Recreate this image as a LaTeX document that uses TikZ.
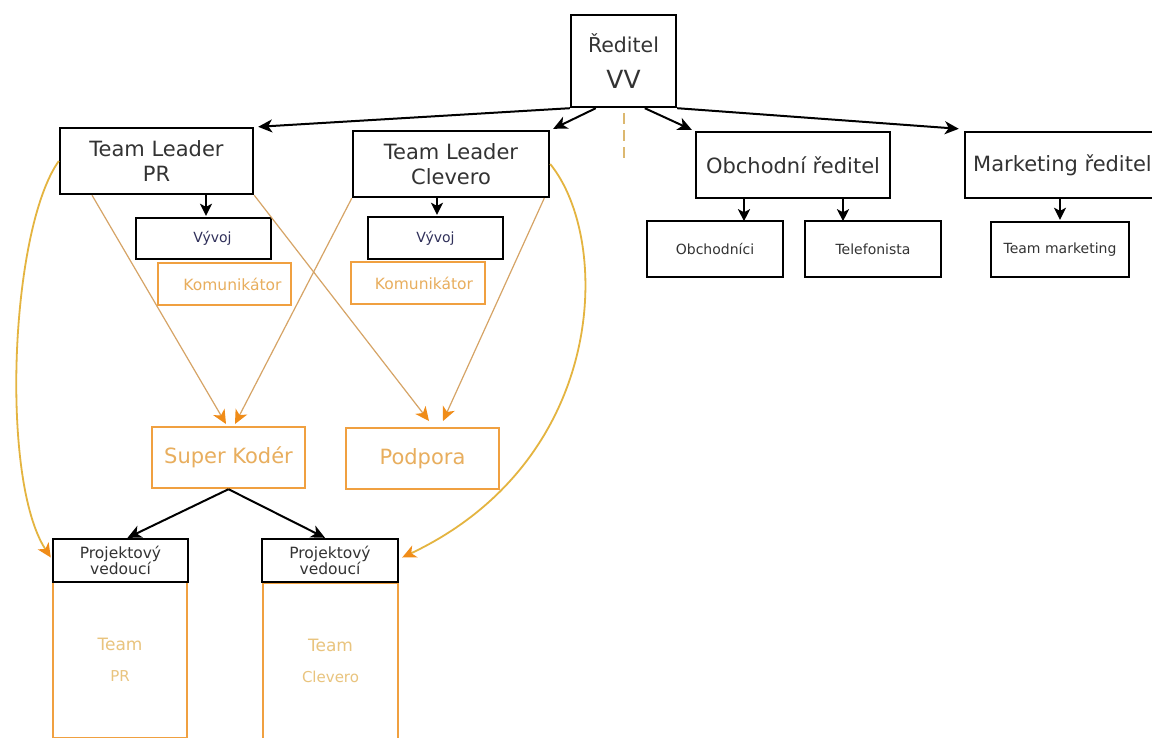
\documentclass[tikz,border=0pt]{standalone}
\usepackage{fontspec}
\setmainfont{DejaVu Sans}
\usetikzlibrary{arrows.meta,calc}
\definecolor{txt}{HTML}{333333}
\definecolor{navy}{HTML}{30305A}
\definecolor{orbox}{HTML}{F0A040}
\definecolor{ortxt}{HTML}{E8AE5E}
\definecolor{orlight}{HTML}{E9C47E}
\definecolor{tanline}{HTML}{D6A466}
\definecolor{gold}{HTML}{E4B440}
\definecolor{orhead}{HTML}{F08C18}
\definecolor{dashc}{HTML}{DCB870}
\begin{document}
\begin{tikzpicture}[x=1pt,y=-1pt,
 bbox/.style={draw=black,line width=2.4pt,inner sep=0pt,text=txt,align=center},
 obox/.style={draw=orbox,line width=2.4pt,inner sep=0pt,text=ortxt,align=center},
 big/.style={font=\fontsize{21}{25}\selectfont},
 small/.style={font=\fontsize{14}{16}\selectfont},
 arr/.style={line width=2pt,-{Stealth[length=14pt,width=13pt,inset=4pt]}},
 sarr/.style={line width=2pt,-{Stealth[length=12pt,width=12pt,inset=3pt]}},
 oline/.style={draw=tanline,line width=1.2pt,-{Stealth[length=14pt,width=13pt,inset=4pt,color=orhead]}},
 ocurve/.style={draw=gold,line width=1.8pt,-{Stealth[length=14pt,width=13pt,inset=4pt,color=orhead]}},
]
\useasboundingbox (0,0) rectangle (1152,737);
\clip (0,0) rectangle (1152,737);
\fill[white] (0,0) rectangle (1152,737);

% top
\node[bbox,minimum width=105pt,minimum height=92pt] (dir) at (623.5,61)
  {\fontsize{20.5}{24}\selectfont Ředitel\\[17pt]\fontsize{25}{28}\selectfont VV};

% second level
\node[bbox,big,minimum width=193pt,minimum height=66pt] (tlpr) at (156.5,161) {Team Leader\\PR};
\node[bbox,big,minimum width=196pt,minimum height=66pt] (tlcl) at (451,164) {Team Leader\\Clevero};
\node[bbox,big,minimum width=194pt,minimum height=66pt] (obch) at (793,165) {Obchodní ředitel};
\node[bbox,big,minimum width=195pt,minimum height=66pt] (mark) at (1062.5,165) {Marketing ředitel};

% third level
\node[bbox,small,text=navy,minimum width=135pt,minimum height=41pt] (vyv1) at (203.5,238.5) {\hspace*{18pt}Vývoj};
\node[bbox,small,text=navy,minimum width=135pt,minimum height=42pt] (vyv2) at (435.5,238) {Vývoj};
\node[obox,font=\fontsize{15.5}{18}\selectfont,minimum width=133pt,minimum height=42pt] (kom1) at (224.5,284) {\hspace*{16pt}Komunikátor};
\node[obox,font=\fontsize{15.5}{18}\selectfont,minimum width=134pt,minimum height=42pt] (kom2) at (418,283) {\hspace*{12pt}Komunikátor};
\node[bbox,small,minimum width=136pt,minimum height=56pt] (obchi) at (715,249) {Obchodníci};
\node[bbox,small,minimum width=136pt,minimum height=56pt] (tel) at (873,249) {Telefonista};
\node[bbox,small,minimum width=138pt,minimum height=55pt] (tmark) at (1060,249.5) {Team marketing};

% fourth level
\node[obox,big,minimum width=153pt,minimum height=61pt] (sk) at (228.5,457.5) {Super Kodér};
\node[obox,big,minimum width=153pt,minimum height=61pt] (pod) at (422.5,458.5) {Podpora};

% project leads
\node[obox,text=orlight,minimum width=134pt,minimum height=156pt] (team1) at (120,660)
  {\fontsize{17}{20}\selectfont Team\\[19pt]\fontsize{15}{18}\selectfont PR};
\node[obox,text=orlight,minimum width=135pt,minimum height=156pt] (team2) at (330.5,661)
  {\fontsize{17}{20}\selectfont Team\\[19pt]\fontsize{15}{18}\selectfont Clevero};
\node[bbox,font=\fontsize{15.5}{15.5}\selectfont,fill=white,minimum width=135pt,minimum height=43pt] (pv1) at (120.5,560.5) {Projektový\\vedoucí};
\node[bbox,font=\fontsize{15.5}{15.5}\selectfont,fill=white,minimum width=136pt,minimum height=43pt] (pv2) at (330,560.5) {Projektový\\vedoucí};

% black connectors
\draw[arr] (dir.south west) -- ($(tlpr.north east)+(4,0)$);
\draw[arr] ($(dir.south west)+(26,0)$) -- ($(tlcl.north east)+(3,-1)$);
\draw[arr] ($(dir.south west)+(75,0)$) -- ($(obch.north west)+(-3,-1)$);
\draw[arr] (dir.south east) -- ($(mark.north west)+(-5,-2)$);
\coordinate (dashend) at ($(dir.south)+(0,51)$);
\draw[dashc,line width=2pt,dash pattern=on 11pt off 6pt] ($(dir.south)+(0,5)$) -- (dashend);

\draw[sarr] (vyv1.north |- tlpr.south) ++(2.5,0) -- ($(vyv1.north)+(2.5,-1)$);
\draw[sarr] (vyv2.north |- tlcl.south) ++(1.5,0) -- ($(vyv2.north)+(1.5,-1)$);
\draw[sarr] ($(obch.south)+(-49,0)$) -- ($(obch.south)+(-49,22)$);
\draw[sarr] ($(obch.south)+(50,0)$) -- ($(obch.south)+(50,22)$);
\draw[sarr] (tmark.north |- mark.south) -- ($(tmark.north)+(0,-1)$);

\draw[arr] (sk.south) -- ($(pv1.north)+(7,0)$);
\draw[arr] (sk.south) -- ($(pv2.north)+(-5,0)$);

% orange connectors
\coordinate (skL) at (226,424);
\coordinate (skR) at (235,424);
\coordinate (podL) at (429,421);
\coordinate (podR) at (443,421);
\draw[oline] ($(tlpr.south west)!0.17!(tlpr.south east)$) -- (skL);
\draw[oline] (tlpr.south east) -- (podL);
\draw[oline] (tlcl.south west) -- (skR);
\draw[oline] ($(tlcl.south west)!0.97!(tlcl.south east)$) -- (podR);

\draw[ocurve] (tlpr.west) .. controls (10,230) and (0,480) .. ($(pv1.west)+(-1,-3)$);
\draw[ocurve] (tlcl.east) .. controls (612,240) and (608,460) .. ($(pv2.east)+(3,-3)$);
\end{tikzpicture}
\end{document}
